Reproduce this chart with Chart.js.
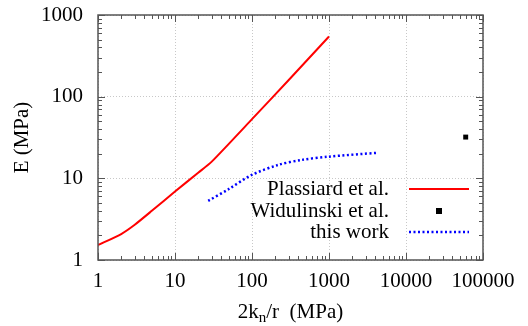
<!DOCTYPE html>
<html>
<head>
<meta charset="utf-8">
<script src="https://cdn.jsdelivr.net/npm/chart.js@4"></script>
<style>
  body { margin: 0; background: #fff; }
</style>
</head>
<body>
<canvas id="chart" width="528" height="326"></canvas>
<script>
const serif = '"Liberation Serif", "Times New Roman", serif';

// data
const plassiardX = [1, 2, 3, 5, 10, 20, 30, 100, 300, 1000];
const plassiardY = [1.52, 2.08, 2.7, 4.0, 6.9, 11.7, 16, 53, 160, 545];
const widulinskiX = [59600];
const widulinskiY = [32];
const thisWorkX = [27, 50, 99, 219, 442, 980, 4370];
const thisWorkY = [5.3, 7.4, 11.0, 14.6, 16.8, 18.4, 20.6];

const xTicks = [1, 10, 100, 1000, 10000, 100000];
const yTicks = [1, 10, 100, 1000];
const xTitle = ["2k", "n", "/r  (MPa)"];
const yTitle = "E (MPa)";

const toPoints = (xs, ys) => xs.map((x, i) => ({ x, y: ys[i] }));

// minor ticks 2..9 in every decade between min and max
function logMinors(min, max) {
  const out = [];
  for (let d = min; d < max; d *= 10) {
    for (let k = 2; k <= 9; k++) out.push(d * k);
  }
  return out;
}

const framePlugin = {
  id: "frame",
  afterDraw(chart) {
    const { ctx, chartArea: a, scales } = chart;
    const x = scales.x, y = scales.y;
    ctx.save();

    // tick marks on all four sides, pointing inward
    ctx.strokeStyle = "#555";
    ctx.lineWidth = 1;
    ctx.beginPath();
    const xt = (v, len) => {
      const px = Math.round(x.getPixelForValue(v)) + 0.5;
      ctx.moveTo(px, a.bottom); ctx.lineTo(px, a.bottom - len);
      ctx.moveTo(px, a.top); ctx.lineTo(px, a.top + len);
    };
    const yt = (v, len) => {
      const py = Math.round(y.getPixelForValue(v)) + 0.5;
      ctx.moveTo(a.left, py); ctx.lineTo(a.left + len, py);
      ctx.moveTo(a.right, py); ctx.lineTo(a.right - len, py);
    };
    xTicks.forEach(v => xt(v, 7));
    logMinors(1, 100000).forEach(v => xt(v, 4));
    yTicks.forEach(v => yt(v, 7));
    logMinors(1, 1000).forEach(v => yt(v, 4));
    ctx.stroke();

    // frame
    ctx.strokeStyle = "#555";
    ctx.lineWidth = 1.5;
    ctx.strokeRect(a.left, a.top, a.right - a.left, a.bottom - a.top);

    // axis titles
    ctx.fillStyle = "#000";
    ctx.font = "21px " + serif;
    ctx.textBaseline = "middle";
    const w0 = ctx.measureText(xTitle[0]).width;
    ctx.font = "15px " + serif;
    const w1 = ctx.measureText(xTitle[1]).width;
    ctx.font = "21px " + serif;
    const w2 = ctx.measureText(xTitle[2]).width;
    let cx = (a.left + a.right) / 2 - (w0 + w1 + w2) / 2;
    const cy = 312;
    ctx.textAlign = "left";
    ctx.fillText(xTitle[0], cx, cy);
    ctx.font = "15px " + serif;
    ctx.fillText(xTitle[1], cx + w0, cy + 6);
    ctx.font = "21px " + serif;
    ctx.fillText(xTitle[2], cx + w0 + w1, cy);

    ctx.translate(22, (a.top + a.bottom) / 2);
    ctx.rotate(-Math.PI / 2);
    ctx.textAlign = "center";
    ctx.fillText(yTitle, 0, 0);
    ctx.restore();

    // legend: text right-aligned, sample on the right
    ctx.save();
    ctx.font = "21px " + serif;
    ctx.textBaseline = "middle";
    ctx.textAlign = "right";
    const rows = [189, 211, 232];
    chart.data.datasets.forEach((ds, i) => {
      const ry = rows[i];
      ctx.fillStyle = "#000";
      ctx.fillText(ds.label, 389, ry);
      if (ds.showLine) {
        ctx.strokeStyle = ds.borderColor;
        ctx.lineWidth = ds.borderWidth;
        ctx.setLineDash(ds.borderDash || []);
        ctx.beginPath();
        ctx.moveTo(409, ry);
        ctx.lineTo(469, ry);
        ctx.stroke();
      } else {
        ctx.fillStyle = ds.backgroundColor;
        ctx.fillRect(436, ry - 3, 6, 6);
      }
    });
    ctx.restore();
  },
};

const gridCommon = {
  color: "#c8c8c8",
  lineWidth: 1,
  drawTicks: false,
};

// keep label overhang from pushing the plot area around
const noOverhang = s => {
  s.paddingTop = 0; s.paddingBottom = 0;
  s.paddingLeft = 0; s.paddingRight = 0;
};

new Chart(document.getElementById("chart"), {
  type: "scatter",
  data: {
    datasets: [
      {
        label: "Plassiard et al.",
        data: toPoints(plassiardX, plassiardY),
        showLine: true,
        borderColor: "#ff0000",
        borderWidth: 2,
        pointRadius: 0,
        tension: 0.2,
      },
      {
        label: "Widulinski et al.",
        data: toPoints(widulinskiX, widulinskiY),
        showLine: false,
        pointStyle: "rect",
        pointRadius: 3.5,
        backgroundColor: "#000",
        borderColor: "#000",
        borderWidth: 0,
      },
      {
        label: "this work",
        data: toPoints(thisWorkX, thisWorkY),
        showLine: true,
        borderColor: "#0000ff",
        borderWidth: 2.5,
        borderDash: [2, 2.5],
        pointRadius: 0,
        tension: 0.3,
      },
    ],
  },
  options: {
    responsive: false,
    animation: false,
    layout: { padding: { top: 15, right: 45, left: 0, bottom: 0 } },
    plugins: {
      legend: { display: false },
      tooltip: { enabled: false },
    },
    scales: {
      x: {
        type: "logarithmic",
        min: 1,
        max: 100000,
        afterBuildTicks: s => { s.ticks = xTicks.map(v => ({ value: v })); },
        afterFit: s => { s.height = 66; noOverhang(s); },
        ticks: {
          color: "#000",
          font: { family: serif, size: 21 },
          maxRotation: 0,
          autoSkip: false,
          padding: 9,
          callback: v => String(v),
        },
        grid: gridCommon,
        border: { display: false, dash: [1, 2] },
      },
      y: {
        type: "logarithmic",
        min: 1,
        max: 1000,
        afterBuildTicks: s => { s.ticks = yTicks.map(v => ({ value: v })); },
        afterFit: s => { s.width = 98; noOverhang(s); },
        ticks: {
          color: "#000",
          font: { family: serif, size: 21 },
          autoSkip: false,
          padding: 15,
          callback: v => String(v),
        },
        grid: gridCommon,
        border: { display: false, dash: [1, 2] },
      },
    },
  },
  plugins: [framePlugin],
});
</script>
</body>
</html>
